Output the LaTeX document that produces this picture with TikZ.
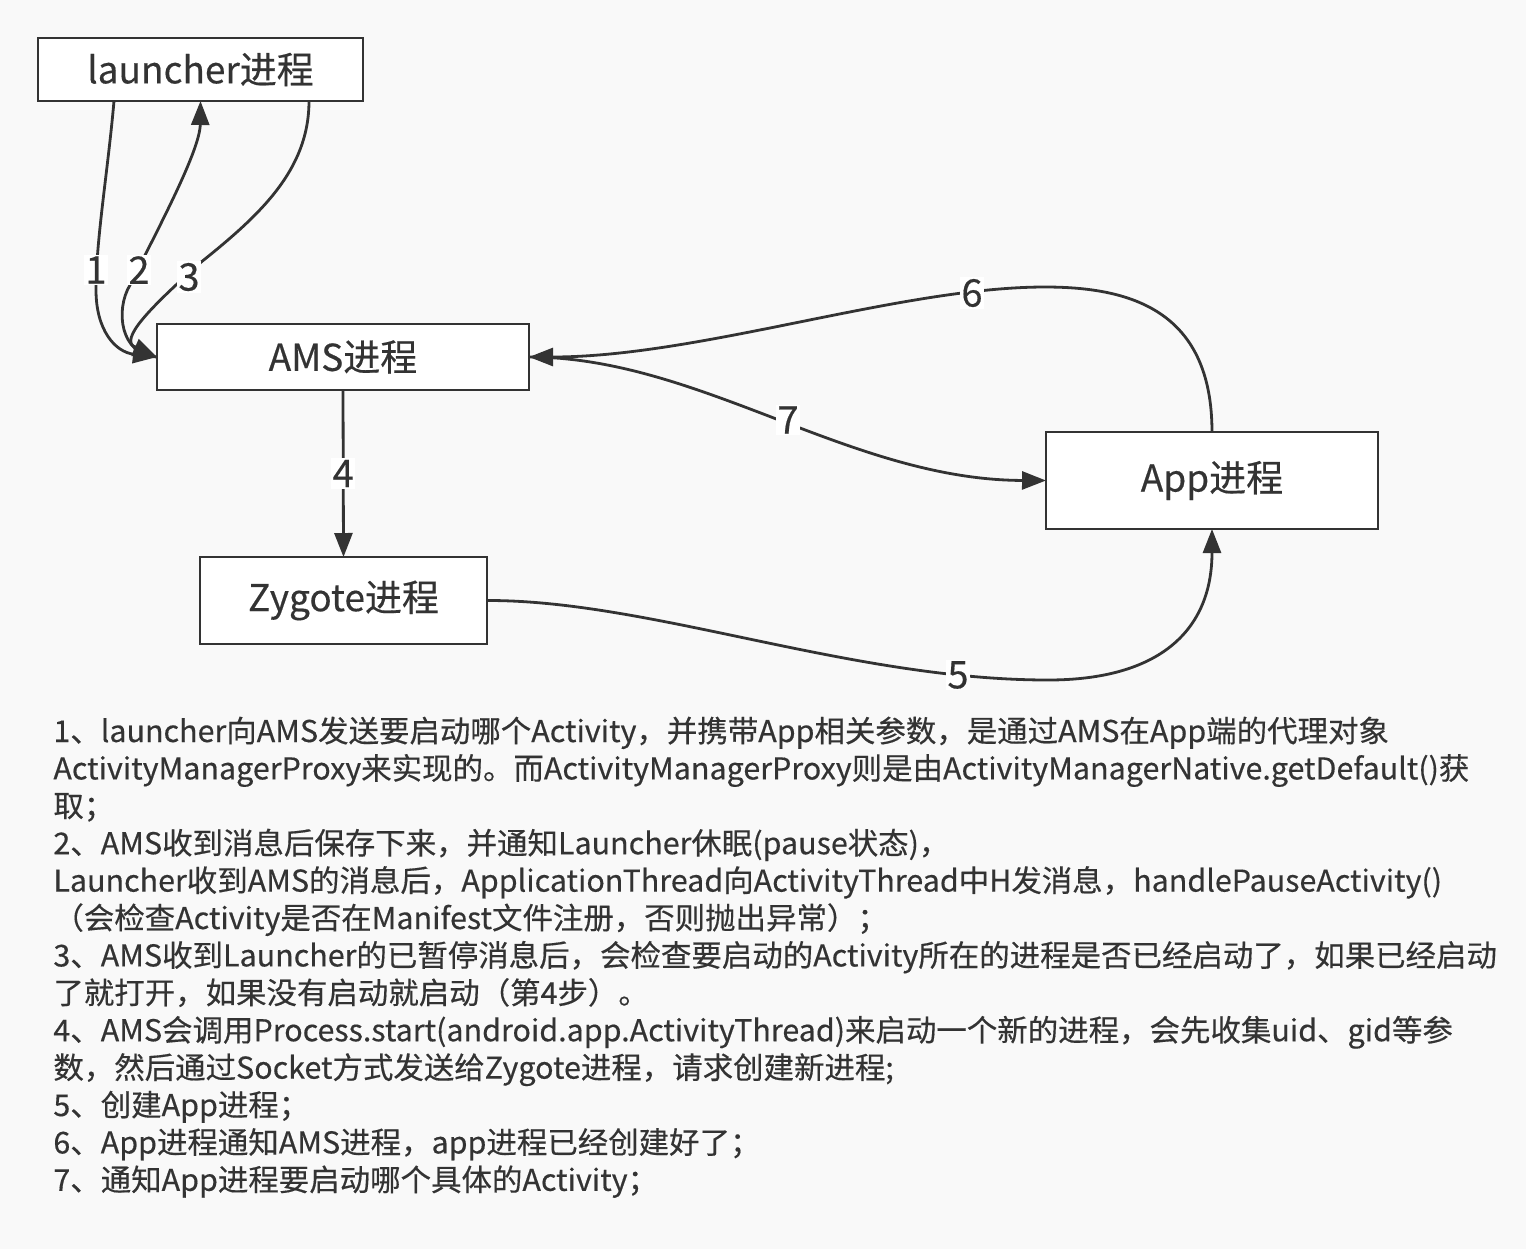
\documentclass[tikz,border=0pt]{standalone}
\usepackage{fontspec}
\setmainfont{Noto Sans CJK SC}[FakeBold=0.4]
\newfontfamily\notefont{Noto Sans CJK SC}[FakeBold=0.4,FakeStretch=1.015]
\usetikzlibrary{arrows.meta,calc}
\definecolor{bgc}{HTML}{F9F9F9}
\definecolor{ink}{HTML}{333333}
\begin{document}
\begin{tikzpicture}[x=0.5pt,y=-0.5pt,
  proc/.style={draw=ink,line width=1.4pt,fill=white,text=ink,inner sep=0pt,outer sep=0pt,font=\fontsize{18.5pt}{22pt}\selectfont},
  conn/.style={draw=ink,line width=1.4pt,-{Triangle[length=12pt,width=9pt]}},
  lab/.style={fill=white,text=ink,inner sep=0.8pt,font=\fontsize{19pt}{22pt}\selectfont},
  note/.style={anchor=base west,inner sep=0pt,text=ink,font=\notefont\fontsize{15pt}{18pt}\selectfont}]
\fill[bgc] (0,0) rectangle (1526,1249);
\useasboundingbox (0,0) rectangle (1526,1249);

\node[proc,minimum width=162.5pt,minimum height=31.5pt] (L) at (200.5,69.5) {launcher进程};
\node[proc,minimum width=186pt,minimum height=33pt] (AMS) at (343,357) {AMS进程};
\node[proc,minimum width=143.5pt,minimum height=43.5pt] (Z) at (343.5,600.5) {Zygote进程};
\node[proc,minimum width=166pt,minimum height=48.5pt] (APP) at (1212,480.5) {App进程};

% edge 1: launcher -> AMS
\draw[conn] ($(L.south west)+(76,0)$) .. controls (108,170) and (96,240) .. (96,290)
   .. controls (96,330) and (115,352) .. (AMS.west);
% edge 2: AMS -> launcher
\draw[conn] (AMS.west) .. controls (120,355) and (115,310) .. (130,285)
   .. controls (160,225) and (200,150) .. (L.south);
% edge 3: launcher -> AMS
\draw[conn] ($(L.south east)+(-54,0)$) .. controls (309,170) and (260,215) .. (200,263)
   .. controls (150,308) and (118,340) .. (AMS.west);
% edge 4
\draw[conn] (AMS.south) -- (Z.north) node[lab,midway] (l4) {4};
% edge 5
\draw[conn] (Z.east) .. controls (650,600) and (850,680) .. (1048,680)
   .. controls (1160,680) and (1212,630) .. (APP.south);
% edge 6
\draw[conn] (APP.north) .. controls (1212,310) and (1130,287) .. (1045,287)
   .. controls (900,287) and (700,357) .. (AMS.east);
% edge 7
\draw[conn] (AMS.east) .. controls (700,357) and (850,480) .. (APP.west);

\node[lab] (l1) at (96,270) {1};
\node[lab] (l2) at (139,270) {2};
\node[lab] (l3) at (189,277) {3};
\node[lab] (l5) at (958,675) {5};
\node[lab] (l6) at (972,293) {6};
\node[lab] (l7) at (788,420) {7};

\node[note] (t1) at (53,742.0) {1、launcher向AMS发送要启动哪个Activity，并携带App相关参数，是通过AMS在App端的代理对象};
\node[note] (t2) at (53,779.4) {ActivityManagerProxy来实现的。而ActivityManagerProxy则是由ActivityManagerNative.getDefault()获};
\node[note] (t3) at (53,816.8) {取；};
\node[note] (t4) at (53,854.2) {2、AMS收到消息后保存下来，并通知Launcher休眠(pause状态)，};
\node[note] (t5) at (53,891.6) {Launcher收到AMS的消息后，ApplicationThread向ActivityThread中H发消息，handlePauseActivity()};
\node[note] (t6) at (53,929.0) {（会检查Activity是否在Manifest文件注册，否则抛出异常）；};
\node[note] (t7) at (53,966.4) {3、AMS收到Launcher的已暂停消息后，会检查要启动的Activity所在的进程是否已经启动了，如果已经启动};
\node[note] (t8) at (53,1003.8) {了就打开，如果没有启动就启动（第4步）。};
\node[note] (t9) at (53,1041.2) {4、AMS会调用Process.start(android.app.ActivityThread)来启动一个新的进程，会先收集uid、gid等参};
\node[note] (t10) at (53,1078.6) {数，然后通过Socket方式发送给Zygote进程，请求创建新进程;};
\node[note] (t11) at (53,1116.0) {5、创建App进程；};
\node[note] (t12) at (53,1153.4) {6、App进程通知AMS进程，app进程已经创建好了；};
\node[note] (t13) at (53,1190.8) {7、通知App进程要启动哪个具体的Activity；};
\end{tikzpicture}
\end{document}
